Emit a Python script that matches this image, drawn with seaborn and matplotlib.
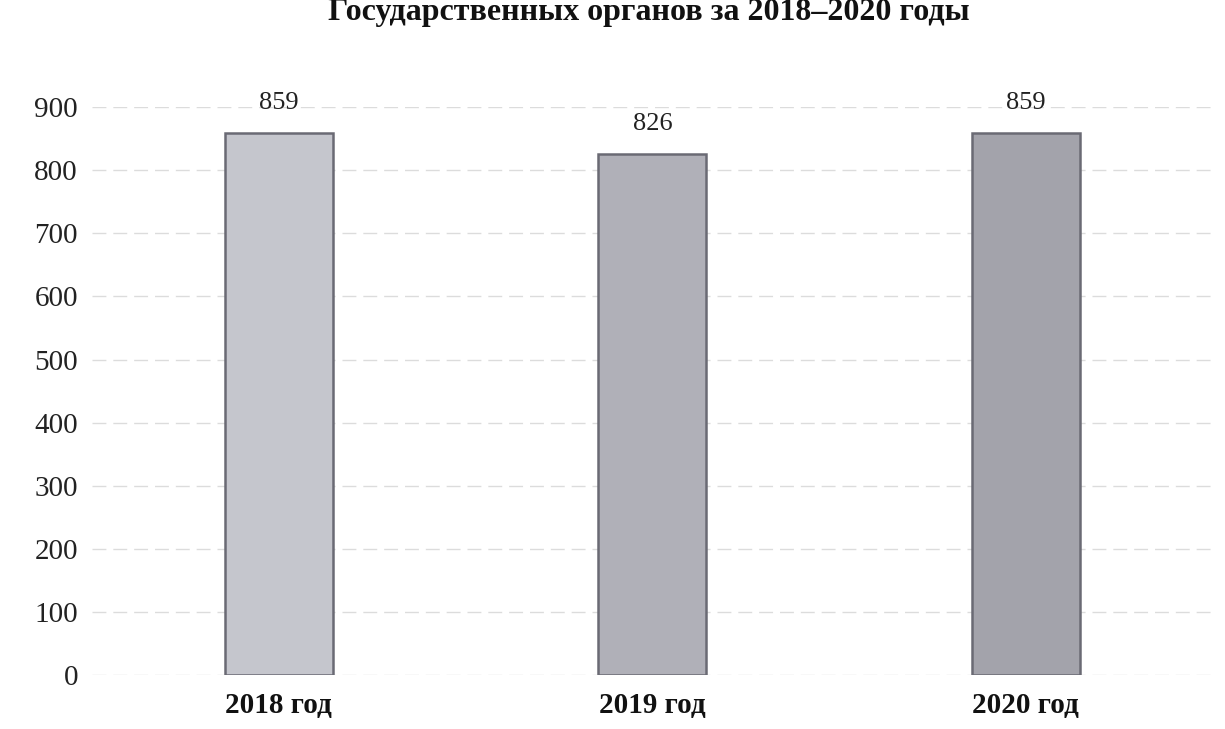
import matplotlib
matplotlib.use("Agg")
import matplotlib.pyplot as plt
import seaborn as sns
import pandas as pd

years = ["2018 год", "2019 год", "2020 год"]
counts = [859, 826, 859]
bar_colors = ["#c3c5cf", "#aeafba", "#a1a1ad"]
title = "Государственных органов за 2018–2020 годы"

df = pd.DataFrame({"year": years, "count": counts})

sns.set_theme(style="white")
plt.rcParams["font.family"] = ["Liberation Serif", "DejaVu Serif"]

fig = plt.figure(figsize=(12.25, 7.29), dpi=100)
ax = fig.add_axes([0.075, 0.074, 0.915, 0.779])

sns.barplot(data=df, x="year", y="count", hue="year", palette=bar_colors,
            width=0.29, edgecolor="#6a6a74", linewidth=1.8, legend=False,
            ax=ax, zorder=3)

ax.set_ylim(0, 900)
ax.set_yticks(range(0, 1000, 100))
ax.yaxis.grid(True, color="#dcdcdc", linewidth=1, linestyle=(0, (10, 5)), zorder=0)
ax.set_xlabel("")
ax.set_ylabel("")
for s in ax.spines.values():
    s.set_visible(False)

ax.tick_params(axis="y", labelsize=21, colors="#222222", pad=4)
ax.tick_params(axis="x", labelsize=21, colors="#111111", pad=6)
for lbl in ax.get_xticklabels():
    lbl.set_fontweight("bold")

for i, v in enumerate(counts):
    ax.text(i, v + 30, str(v), ha="center", va="bottom", fontsize=19,
            color="#222222", clip_on=False)

fig.text(0.53, 0.972, title, ha="center", va="baseline", fontsize=23,
         fontweight="bold", color="#111111")

fig.savefig("out.png", dpi=100, facecolor="white")
